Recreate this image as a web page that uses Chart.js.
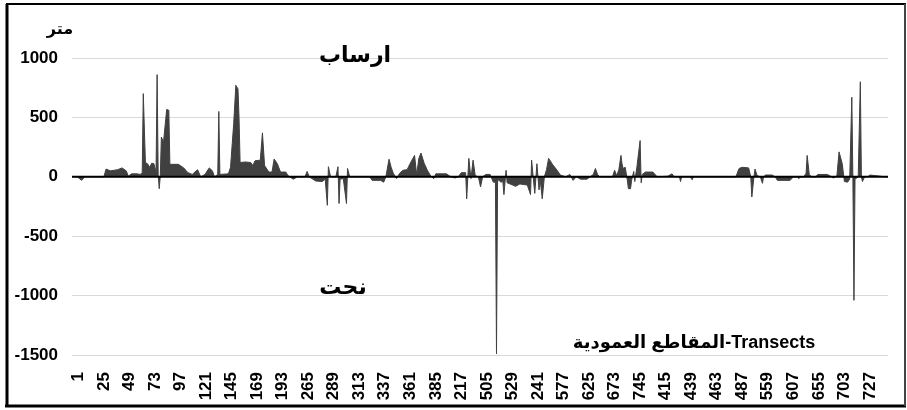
<!DOCTYPE html>
<html>
<head>
<meta charset="utf-8">
<script src="https://cdn.jsdelivr.net/npm/chart.js@4.4.1/dist/chart.umd.min.js"></script>
<style>
  html, body { margin: 0; padding: 0; background: #fff; }
  #wrap { width: 907px; height: 410px; position: relative; }
</style>
</head>
<body>
<div id="wrap"><canvas id="areaChart"></canvas></div>
<script>
// transect position (order along the coast) and net change in metres
const transectPos = [-6, -1, 3, 6, 24, 26, 30, 37, 41, 45, 47, 50, 55, 58, 60, 61, 63, 65, 67, 69, 71, 73, 74, 75, 76, 77, 78, 80, 83, 85, 86, 94, 99, 103, 107, 112, 115, 119, 123, 126, 128, 131, 132, 133, 141, 143, 146, 148, 150, 151, 152, 157, 162, 164, 166, 171, 173, 175, 179, 182, 184, 187, 190, 195, 197, 202, 206, 213, 215, 217, 223, 229, 232, 234, 235, 237, 242, 244, 245, 246, 249, 252, 253, 255, 274, 276, 284, 287, 289, 292, 294, 296, 299, 302, 305, 309, 312, 316, 318, 320, 322, 325, 328, 331, 334, 336, 346, 350, 354, 357, 360, 364, 365, 367, 369, 371, 373, 376, 378, 380, 383, 387, 390, 392, 393, 394, 395, 397, 399, 400, 402, 403, 411, 415, 422, 425, 426, 428, 429, 431, 433, 434, 436, 438, 440, 442, 446, 450, 453, 458, 462, 465, 468, 472, 478, 481, 484, 486, 488, 490, 502, 504, 506, 508, 510, 511, 512, 514, 516, 517, 519, 520, 522, 523, 525, 528, 529, 530, 533, 540, 544, 554, 558, 560, 565, 566, 567, 575, 577, 578, 618, 621, 624, 630, 632, 633, 635, 636, 638, 641, 643, 644, 646, 652, 655, 657, 669, 672, 676, 677, 679, 682, 684, 685, 687, 689, 693, 695, 704, 707, 710, 713, 715, 718, 720, 723, 725, 727, 728, 729, 730, 733, 735, 736, 737, 739, 742, 744, 749, 754, 757, 761];
const netChange = [0, 0, -30, 0, 0, 65, 50, 60, 75, 50, 5, 25, 25, 20, 30, 700, 120, 110, 80, 115, 110, 40, 860, 20, -100, 10, 335, 290, 567, 560, 105, 105, 75, 35, 20, 60, 0, 20, 75, 50, 0, 20, 550, 20, 25, 80, 450, 770, 740, 500, 120, 125, 120, 95, 135, 140, 370, 95, 40, 40, 150, 110, 40, 40, 10, -20, 0, 0, 45, 0, -35, -40, -20, -240, 85, 0, 0, 85, -225, -20, -15, -225, 70, 0, 0, -30, -30, -45, 0, 148, 80, 30, -15, 30, 55, 60, 115, 180, 15, 155, 200, 115, 55, 10, -15, 25, 25, 0, -10, 0, 35, 35, -185, 155, -15, 140, 10, 0, -85, 0, 20, 20, -45, -45, -1490, -45, -20, -45, -40, -150, 55, -50, -80, -60, -70, -150, 140, -50, -140, 110, -110, -20, -185, 0, 60, 155, 100, 55, 15, 0, 20, -30, 0, -20, -20, 0, 20, 70, 20, 0, 0, 55, 10, 60, 180, 110, 70, 80, -30, -100, -100, -30, 45, -40, 85, 305, -50, 20, 40, 40, 0, 5, 25, 0, 0, -40, 0, 0, -25, 0, 0, 70, 80, 75, 0, -170, 0, 65, 10, 0, -55, 0, 15, 15, 0, -30, -30, 0, 0, -15, 0, 0, 30, 180, 20, 0, 0, 20, 20, 5, -10, 10, 210, 110, -40, -45, -20, 670, -20, -1040, -20, 0, 800, 0, -40, 0, 0, 15, 10, 5, 0, 0];

// transect numbers printed under every 24th position
const tickLabels = ['1', '25', '49', '73', '97', '121', '145', '169', '193', '265', '289', '313', '337', '361', '385', '217', '505', '529', '241', '577', '625', '673', '745', '415', '439', '463', '487', '559', '607', '655', '703', '727'];
const yTicks = [1000, 500, 0, -500, -1000, -1500];

const fillColor = '#404040';

const annotations = {
  id: 'annotations',
  afterDatasetsDraw(chart) {
    const { ctx, chartArea, scales } = chart;
    const y0 = scales.y.getPixelForValue(0);
    ctx.save();
    // zero line on top of the area
    ctx.strokeStyle = '#000';
    ctx.lineWidth = 2;
    ctx.beginPath();
    ctx.moveTo(chartArea.left, y0);
    ctx.lineTo(chartArea.right, y0);
    ctx.stroke();

    ctx.fillStyle = '#000';
    ctx.textAlign = 'center';
    ctx.textBaseline = 'middle';
    ctx.direction = 'rtl';
    ctx.font = 'bold 16px "DejaVu Sans"';
    ctx.fillText('متر', 60, 30);
    ctx.font = 'bold 22px "DejaVu Sans"';
    ctx.fillText('ارساب', 355, 56);
    ctx.fillText('نحت', 343, 288);
    ctx.font = 'bold 18px "Liberation Sans", "DejaVu Sans"';
    ctx.fillText('Transects-المقاطع العمودية', 694, 343);
    ctx.restore();
  },
  afterDraw(chart) {
    const ctx = chart.ctx;
    ctx.save();
    ctx.strokeStyle = '#000';
    ctx.lineWidth = 3;
    ctx.beginPath();
    ctx.moveTo(7, 4); ctx.lineTo(7, 406);
    ctx.moveTo(5, 406); ctx.lineTo(906, 406);
    ctx.stroke();
    ctx.lineWidth = 2;
    ctx.beginPath();
    ctx.moveTo(6, 4); ctx.lineTo(906, 4);
    ctx.stroke();
    ctx.strokeStyle = '#444';
    ctx.beginPath();
    ctx.moveTo(905, 4); ctx.lineTo(905, 406);
    ctx.stroke();
    ctx.restore();
  }
};

const ctx = document.getElementById('areaChart').getContext('2d');

new Chart(ctx, {
  type: 'line',
  data: {
    datasets: [{
      data: transectPos.map((x, i) => ({ x: x, y: netChange[i] })),
      borderColor: fillColor,
      backgroundColor: fillColor,
      borderWidth: 1,
      fill: 'origin',
      tension: 0,
      pointRadius: 0
    }]
  },
  options: {
    responsive: true,
    maintainAspectRatio: false,
    animation: false,
    layout: { padding: { left: 10, top: 58, right: 19, bottom: 5 } },
    plugins: {
      legend: { display: false },
      tooltip: { enabled: false }
    },
    scales: {
      x: {
        type: 'linear',
        min: -6,
        max: 761,
        grid: { display: false },
        border: { display: false },
        afterBuildTicks: (scale) => {
          scale.ticks = tickLabels.map((_, i) => ({ value: i * 24 }));
        },
        afterFit: (scale) => { scale.height = 50; },
        ticks: {
          autoSkip: false,
          minRotation: 90,
          maxRotation: 90,
          padding: 9,
          color: '#000',
          font: { family: '"Liberation Sans"', size: 17, weight: 'bold' },
          callback: (v) => tickLabels[v / 24] ?? ''
        }
      },
      y: {
        min: -1500,
        max: 1000,
        afterBuildTicks: (scale) => {
          scale.ticks = yTicks.map(v => ({ value: v }));
        },
        afterFit: (scale) => { scale.width = 62; },
        grid: { color: '#d9d9d9', lineWidth: 1, drawTicks: false },
        border: { display: false },
        ticks: {
          padding: 14,
          color: '#000',
          font: { family: '"Liberation Sans"', size: 17, weight: 'bold' },
          callback: (v) => String(v)
        }
      }
    }
  },
  plugins: [annotations]
});
</script>
</body>
</html>
